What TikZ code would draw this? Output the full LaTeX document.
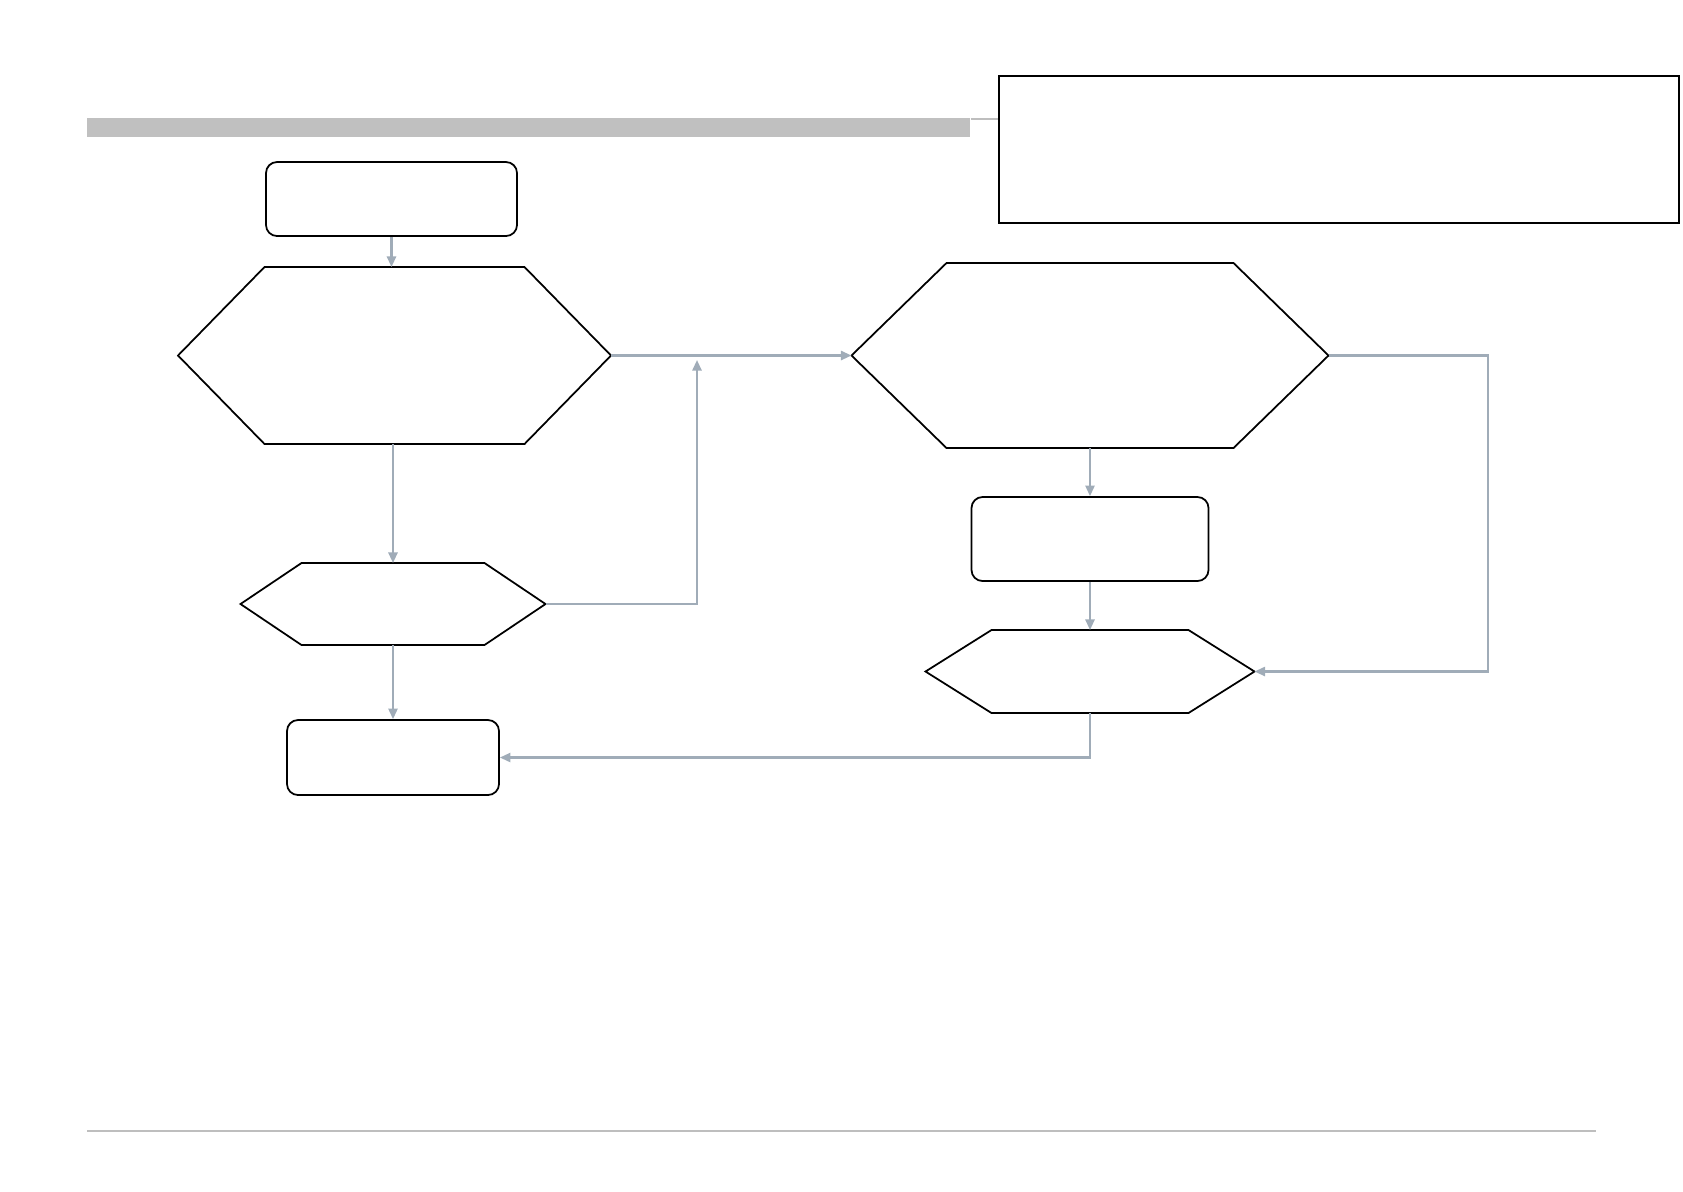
\documentclass[tikz,border=0pt]{standalone}
\usepackage{tikz}
\usetikzlibrary{calc, positioning, arrows.meta}
\usepackage{xcolor}
\definecolor{linkgray}{RGB}{160, 172, 184}
\definecolor{bargray}{RGB}{192, 192, 192}
\definecolor{rulegray}{RGB}{190, 190, 190}

\begin{document}
\begin{tikzpicture}[
  roundbox/.style={draw, line width=0.5pt, rounded corners=0.11cm, inner sep=0pt},
  hexbox/.style={inner sep=0pt, outer sep=0pt, append after command={\pgfextra{
      \draw[line width=0.5pt]
        (\tikzlastnode.west) -- ($(\tikzlastnode.north west)+(#1,0)$)
        -- ($(\tikzlastnode.north east)-(#1,0)$) -- (\tikzlastnode.east)
        -- ($(\tikzlastnode.south east)-(#1,0)$)
        -- ($(\tikzlastnode.south west)+(#1,0)$) -- cycle;}}},
  link/.style={draw=linkgray, line width=0.6pt, -{Triangle[length=3pt, width=2.6pt]}},
]
  \useasboundingbox (0,0) rectangle (16.83,-11.91);
  % header bar and note
  \node[fill=bargray, minimum width=8.83cm, minimum height=0.19cm, inner sep=0pt] (bar) at (5.285,-1.275) {};
  \node[draw, line width=0.65pt, minimum width=6.80cm, minimum height=1.47cm, inner sep=0pt] (note) at (13.39,-1.495) {};
  \draw[rulegray, line width=0.6pt] ([yshift=-0.4pt]bar.north east) -- ([yshift=-0.4pt]bar.north east -| note.west);
  % left column
  \node[roundbox, minimum width=2.51cm, minimum height=0.74cm] (start) at (3.915,-1.99) {};
  \node[hexbox=0.865, minimum width=4.33cm, minimum height=1.77cm] (check) at (3.945,-3.555) {};
  \node[hexbox=0.61, minimum width=3.05cm, minimum height=0.82cm] (retry) at (3.93,-6.04) {};
  \node[roundbox, minimum width=2.12cm, minimum height=0.75cm] (finish) at (3.93,-7.575) {};
  % right column
  \node[hexbox=0.95, minimum width=4.77cm, minimum height=1.85cm] (verify) at (10.9,-3.555) {};
  \node[roundbox, minimum width=2.37cm, minimum height=0.84cm] (fix) at (10.9,-5.39) {};
  \node[hexbox=0.66, minimum width=3.29cm, minimum height=0.83cm] (confirm) at (10.9,-6.715) {};
  % connectors
  \coordinate (merge) at (6.97,-3.60);
  \coordinate (bend) at (14.88,-3.555);
  \draw[link] (start.south) -- (start.south |- check.north);
  \draw[link] (check.east) -- (verify.west);
  \draw[link] (retry.north |- check.south) -- (retry.north);
  \draw[link] (retry.east) -| (merge);
  \draw[link] (retry.south) -- (finish.north);
  \draw[link] (verify.south) -- (fix.north);
  \draw[link] (fix.south) -- (confirm.north);
  \draw[link] (verify.east) -- (bend) |- (confirm.east);
  \draw[link] (confirm.south) |- (finish.east);
  % footer rule
  \draw[rulegray, line width=0.6pt] (0.87,-11.31) -- (15.96,-11.31);
\end{tikzpicture}
\end{document}
